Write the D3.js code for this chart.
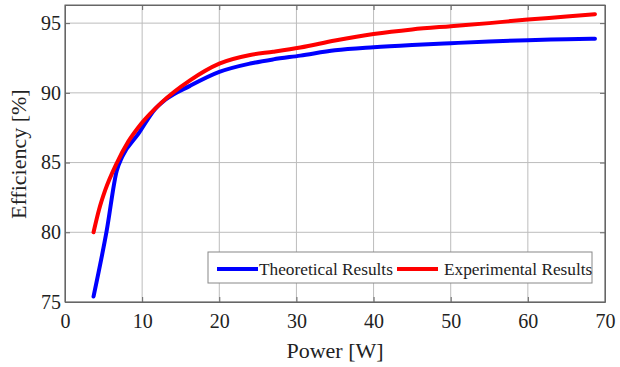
<!DOCTYPE html>
<html>
<head>
<meta charset="utf-8">
<script src="https://cdn.jsdelivr.net/npm/d3@7"></script>
<style>
  body { margin: 0; background: #fff; }
  text { font-family: "Liberation Serif", "Times New Roman", serif; fill: #222; }
</style>
</head>
<body>
<div id="canvas"></div>
<script>
// data
var theoreticalP = [3.7, 5.4, 6.7, 7.4, 9.5, 11.7, 13, 16.2, 20, 24, 27, 30.5, 35, 40, 45, 50, 55, 60, 65, 68.7];
var theoreticalEff = [75.4, 80.1, 84.4, 85.4, 87.05, 88.85, 89.5, 90.5, 91.5, 92.1, 92.4, 92.67, 93.05, 93.27, 93.43, 93.56, 93.68, 93.78, 93.84, 93.88];
var experimentalP = [3.7, 4.4, 5.2, 6.7, 8.2, 9.9, 12.5, 16.2, 20, 24, 27, 30.5, 35, 40, 45, 50, 55, 60, 65, 68.7];
var experimentalEff = [80.0, 81.6, 83.0, 84.95, 86.5, 87.8, 89.3, 90.9, 92.1, 92.72, 92.95, 93.25, 93.75, 94.22, 94.55, 94.78, 95.0, 95.26, 95.47, 95.64];
var xTicks = [0, 10, 20, 30, 40, 50, 60, 70];
var yTicks = [75, 80, 85, 90, 95];
var seriesNames = ["Theoretical Results", "Experimental Results"];
var seriesColors = ["#0000ff", "#ff0000"];

var width = 620, height = 367;
var margin = {left: 65, top: 5, right: 15, bottom: 65};

var svgContainer = d3.select("#canvas").append("svg")
	.attr("width", width)
	.attr("height", height);

var x = d3.scaleLinear().domain([0, 70]).range([margin.left, width - margin.right]);
var y = d3.scaleLinear().domain([75, 96.3]).range([height - margin.bottom, margin.top]);

// grid
svgContainer.append("g").selectAll("line").data(xTicks).enter().append("line")
	.attr("x1", d => x(d)).attr("x2", d => x(d))
	.attr("y1", y(75)).attr("y2", y(96.3))
	.attr("stroke", "#bcbcbc").attr("stroke-width", 1);
svgContainer.append("g").selectAll("line").data(yTicks).enter().append("line")
	.attr("x1", x(0)).attr("x2", x(70))
	.attr("y1", d => y(d)).attr("y2", d => y(d))
	.attr("stroke", "#bcbcbc").attr("stroke-width", 1);

// axes
var xAxis = svgContainer.append("g")
	.attr("transform", "translate(0," + y(75) + ")")
	.call(d3.axisBottom(x).tickValues(xTicks).tickSizeInner(-5).tickSizeOuter(0).tickPadding(12));
var yAxis = svgContainer.append("g")
	.attr("transform", "translate(" + x(0) + ",0)")
	.call(d3.axisLeft(y).tickValues(yTicks).tickSizeInner(-5).tickSizeOuter(0).tickPadding(4));
svgContainer.append("g")
	.attr("transform", "translate(0," + y(96.3) + ")")
	.call(d3.axisTop(x).tickValues(xTicks).tickSizeInner(-5).tickSizeOuter(0).tickFormat(""));
svgContainer.append("g")
	.attr("transform", "translate(" + x(70) + ",0)")
	.call(d3.axisRight(y).tickValues(yTicks).tickSizeInner(-5).tickSizeOuter(0).tickFormat(""));

svgContainer.selectAll(".domain, .tick line").attr("stroke", "#666");
svgContainer.selectAll(".tick text")
	.style("font-family", "'Liberation Serif', serif")
	.style("font-size", "20px")
	.attr("fill", "#222");

// box
svgContainer.append("rect")
	.attr("x", x(0)).attr("y", y(96.3))
	.attr("width", x(70) - x(0)).attr("height", y(75) - y(96.3))
	.attr("fill", "none").attr("stroke", "#666").attr("stroke-width", 1);

// curves
var line = d3.line()
	.x(d => x(d[0]))
	.y(d => y(d[1]))
	.curve(d3.curveMonotoneX);

var theo = theoreticalP.map((p, i) => [p, theoreticalEff[i]]);
var expe = experimentalP.map((p, i) => [p, experimentalEff[i]]);

[theo, expe].forEach(function(s, i) {
	svgContainer.append("path")
		.datum(s)
		.attr("d", line)
		.attr("fill", "none")
		.attr("stroke", seriesColors[i])
		.attr("stroke-width", 4)
		.attr("stroke-linecap", "round")
		.attr("stroke-linejoin", "round");
});

// axis labels
svgContainer.append("text")
	.attr("x", (x(0) + x(70)) / 2).attr("y", 358)
	.attr("text-anchor", "middle")
	.style("font-size", "22px")
	.text("Power [W]");
svgContainer.append("text")
	.attr("transform", "translate(26," + y(85.6) + ") rotate(-90)")
	.attr("text-anchor", "middle")
	.style("font-size", "22px")
	.text("Efficiency [%]");

// legend
var legend = svgContainer.append("g");
legend.append("rect")
	.attr("x", 208).attr("y", 252).attr("width", 384).attr("height", 31)
	.attr("fill", "#fff").attr("stroke", "#888").attr("stroke-width", 1);
var legendX = [217, 397];
seriesNames.forEach(function(name, i) {
	legend.append("line")
		.attr("x1", legendX[i]).attr("x2", legendX[i] + 41)
		.attr("y1", 269).attr("y2", 269)
		.attr("stroke", seriesColors[i]).attr("stroke-width", 4);
	legend.append("text")
		.attr("x", legendX[i] + 42 + i * 5).attr("y", 275)
		.style("font-size", "17.3px")
		.text(name);
});
</script>
</body>
</html>
